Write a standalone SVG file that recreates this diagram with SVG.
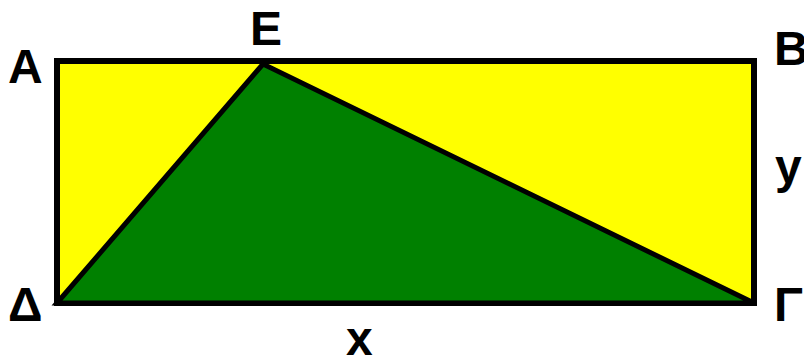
<svg xmlns="http://www.w3.org/2000/svg" width="804" height="358" viewBox="0 0 804 358">
<style>
.lbl{font-family:"Liberation Sans",Arial,sans-serif;font-weight:bold;font-size:48px;fill:#000}
</style>
<rect width="804" height="358" fill="#fff"/>
<g id="rectangle">
<rect x="57" y="61" width="697" height="242" fill="#ffff00" stroke="#000" stroke-width="6"/>
</g>
<g id="triangle">
<polygon points="57,303 263,64 754,303" fill="#008000" stroke="#000" stroke-width="5" stroke-linejoin="miter"/>
</g>
<g id="labels">
<text class="lbl" x="8" y="83">Α</text>
<text class="lbl" x="250" y="45">Ε</text>
<text class="lbl" x="774" y="65">Β</text>
<text class="lbl" x="775" y="183">y</text>
<text class="lbl" x="8" y="321">Δ</text>
<text class="lbl" x="774" y="321">Γ</text>
<text class="lbl" x="346" y="355">x</text>
</g>
</svg>
